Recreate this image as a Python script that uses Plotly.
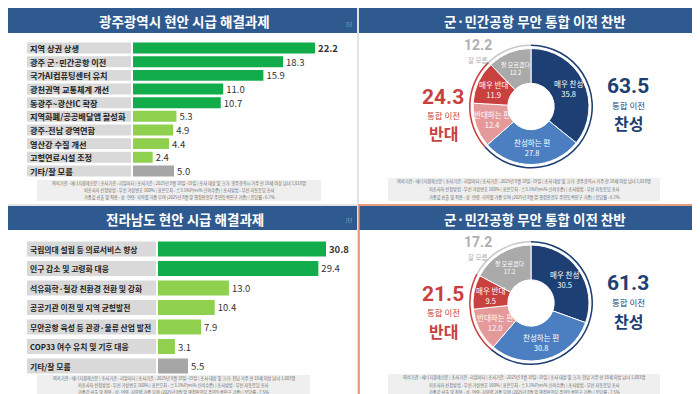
import math
import plotly.graph_objects as go

W, H = 700, 394
FONT = "Noto Sans CJK KR"
NUMFONT = "Roboto"

# ---------------- data ----------------
gj_title = "광주광역시 현안 시급 해결과제"
gj_items = ["지역 상권 상생", "광주 군·민간공항 이전", "국가AI컴퓨팅센터 유치", "광천권역 교통체계 개선",
            "동광주~광산IC 확장", "지역화폐/공공배달앱 활성화", "광주-전남 광역연합", "영산강 수질 개선",
            "고형연료시설 조정", "기타/잘 모름"]
gj_values = [22.2, 18.3, 15.9, 11.0, 10.7, 5.3, 4.9, 4.4, 2.4, 5.0]
gj_tier = ["top", "top", "top", "top", "top", "mid", "mid", "mid", "mid", "etc"]

jn_title = "전라남도 현안 시급 해결과제"
jn_items = ["국립의대 설립 등 의료서비스 향상", "인구 감소 및 고령화 대응", "석유화학·철강 친환경 전환 및 강화",
            "공공기관 이전 및 지역 균형발전", "무안공항 육성 등 관광·물류 산업 발전", "COP33 여수 유치 및 기후 대응",
            "기타/잘 모름"]
jn_values = [30.8, 29.4, 13.0, 10.4, 7.9, 3.1, 5.5]
jn_tier = ["top", "top", "mid", "mid", "mid", "mid", "etc"]

donut_title = "군·민간공항 무안 통합 이전 찬반"
donut_labels = ["매우 찬성", "찬성하는 편", "반대하는 편", "매우 반대", "잘 모르겠다"]
gj_donut = [35.8, 27.8, 12.4, 11.9, 12.2]
jn_donut = [30.5, 30.8, 12.0, 9.5, 17.2]
group_labels = ["찬성", "반대", "잘 모름"]
gj_groups = [63.5, 24.3, 12.2]
jn_groups = [61.3, 21.5, 17.2]

gj_note = ["의뢰기관 : 에너지경제신문 | 조사기관 : 리얼미터 | 조사기간 : 2025년 9월 18일~19일 | 조사 대상 및 크기: 광주광역시 거주 만 18세 이상 남녀 1,018명",
           "피조사자 선정방법 : 무선 가상번호 100% | 표본오차 : ±3.1%P(95% 신뢰수준) | 조사방법 : 무선 자동응답 조사",
           "가중값 산출 및 적용 : 성·연령·지역별 가중 부여 (2025년 8월 말 행정안전부 주민등록인구 기준) | 응답률 : 6.7%"]
jn_note = ["의뢰기관 : 에너지경제신문 | 조사기관 : 리얼미터 | 조사기간 : 2025년 9월 18일~19일 | 조사 대상 및 크기: 전남 거주 만 18세 이상 남녀 1,003명",
           "피조사자 선정방법 : 무선 가상번호 100% | 표본오차 : ±3.1%P(95% 신뢰수준) | 조사방법 : 무선 자동응답 조사",
           "가중값 산출 및 적용 : 성·연령·지역별 가중 부여 (2025년 8월 말 행정안전부 주민등록인구 기준) | 응답률 : 7.5%"]

# ---------------- style ----------------
HEADER = "#2e5a90"
TIER_COL = {"top": "#12ad4a", "mid": "#8fd04f", "etc": "#a6a6a6"}
DONUT_COL = ["#1d3f73", "#4b7fc1", "#e49a9a", "#c8413f", "#aaaaaa"]
GROUP_COL = ["#1d3f73", "#c8413f", "#c8c8c8"]
NAVY, RED, GRAY = "#1d3f73", "#c8413f", "#b0b0b0"


def px(x):
    return x / W


def py(y):
    return 1 - y / H


fig = go.Figure()
shapes, annos = [], []


def rect(x0, y0, x1, y1, fill, line=None, lw=0):
    shapes.append(dict(type="rect", xref="paper", yref="paper", x0=px(x0), x1=px(x1),
                       y0=py(y1), y1=py(y0), fillcolor=fill,
                       line=dict(color=line or fill, width=lw), layer="below"))


def text(x, y, s, size, color, weight="normal", xanchor="center", family=FONT):
    annos.append(dict(xref="paper", yref="paper", x=px(x), y=py(y), text=s, showarrow=False,
                      xanchor=xanchor, yanchor="middle", borderpad=0,
                      font=dict(family=family, size=size, color=color, weight=weight)))


# background panels, headers
rect(0, 0, 700, 394, "#ffffff")
for (x0, x1) in [(0, 349), (351, 700)]:
    rect(x0, 0, x1, 25, HEADER)
    rect(x0, 198, x1, 222, HEADER)
shapes.append(dict(type="line", xref="paper", yref="paper", x0=px(350), x1=px(350), y0=0, y1=1,
                   line=dict(color="#dfe4ea", width=2)))
shapes.append(dict(type="line", xref="paper", yref="paper", x0=0, x1=1, y0=py(197), y1=py(197),
                   line=dict(color="#e4e4e4", width=2)))

text(177, 13, gj_title, 13.5, "white", "bold")
text(177, 211, jn_title, 13.5, "white", "bold")
text(527, 13, donut_title, 13.5, "white", "bold")
text(527, 211, donut_title, 13.5, "white", "bold")
for (x, y) in [(346, 15), (692, 15), (346, 212), (692, 212)]:
    text(x, y, "[단", 5, "#9fb4d0", xanchor="right")


# ---------------- bar charts ----------------
def bar_panel(items, values, tier, xa, ya, box_x0, box_x1, bar_w, lab_size):
    n = len(items)
    txt = [f"<b>{v:.1f}</b>" if i == 0 else f"{v:.1f}" for i, v in enumerate(values)]
    fig.add_trace(go.Bar(
        y=list(range(n)), x=values, orientation="h", width=bar_w,
        marker=dict(color=[TIER_COL[t] for t in tier], line=dict(width=0)),
        text=txt, textposition="outside", constraintext="none", cliponaxis=False,
        textfont=dict(family=FONT, size=9.5, color="#333333"),
        xaxis=xa, yaxis=ya, showlegend=False, hoverinfo="skip"))
    for i, lab in enumerate(items):
        shapes.append(dict(type="rect", xref="paper", yref=ya, x0=px(box_x0), x1=px(box_x1),
                           y0=i - bar_w / 2, y1=i + bar_w / 2, fillcolor="#d9d9d9",
                           line=dict(width=0), layer="below"))
        annos.append(dict(xref="paper", yref=ya, x=px(box_x0 + 2), y=i, text=lab, showarrow=False,
                          xanchor="left", yanchor="middle", borderpad=0,
                          font=dict(family=FONT, size=lab_size, color="#222222", weight="bold")))


bar_panel(gj_items, gj_values, gj_tier, "x", "y", 19, 123, 0.8, 8.2)
bar_panel(jn_items, jn_values, jn_tier, "x2", "y2", 19, 148, 0.78, 7.8)

axis_off = dict(showgrid=False, zeroline=False, showticklabels=False, ticks="", showline=False)
fig.update_layout(
    xaxis=dict(domain=[px(125), px(330)], range=[0, 25], anchor="y", **axis_off),
    yaxis=dict(domain=[py(169.8), py(33.2)], range=[9.5, -0.5], anchor="x", **axis_off),
    xaxis2=dict(domain=[px(150), px(330)], range=[0, 33], anchor="y2", **axis_off),
    yaxis2=dict(domain=[py(367.75), py(231.25)], range=[6.5, -0.5], anchor="x2", **axis_off),
)


# ---------------- donuts ----------------
def donut_panel(vals, groups, cx, cy, r, dy):
    fig.add_trace(go.Pie(
        values=groups, labels=group_labels, sort=False, direction="clockwise", hole=0.975,
        domain=dict(x=[px(cx - r - 4), px(cx + r + 4)], y=[py(cy + r + 4), py(cy - r - 4)]),
        marker=dict(colors=GROUP_COL, line=dict(width=0)), textinfo="none",
        showlegend=False, hoverinfo="skip"))
    fig.add_trace(go.Pie(
        values=vals, labels=donut_labels, sort=False, direction="clockwise", hole=0.4,
        domain=dict(x=[px(cx - r), px(cx + r)], y=[py(cy + r), py(cy - r)]),
        marker=dict(colors=DONUT_COL, line=dict(color="white", width=1)),
        textinfo="none", showlegend=False, hoverinfo="skip"))
    # slice labels at mid-angle of each slice
    tot = sum(vals)
    cum = 0.0
    rr = 0.71 * r
    for lab, v in zip(donut_labels, vals):
        mid = (cum + v / 2) / tot * 2 * math.pi
        cum += v
        x = cx + rr * math.sin(mid)
        y = cy - rr * math.cos(mid)
        size = 6 if lab == "잘 모르겠다" else 7.5
        text(x, y, f"{lab}<br>{v:.1f}", size, "white")
    # side annotations
    text(620, 78 + dy, f"{groups[0]:.1f}", 21, NAVY, "bold", family=NUMFONT)
    text(620, 97 + dy, "통합 이전", 8.5, NAVY)
    text(620, 115.5 + dy, "<b>찬성</b>", 16, NAVY)
    text(435, 89 + dy, f"{groups[1]:.1f}", 21, RED, "bold", family=NUMFONT)
    text(435, 107 + dy, "통합 이전", 8.5, RED)
    text(435, 125.5 + dy, "<b>반대</b>", 16, RED)
    text(470, 37 + dy, f"{groups[2]:.1f}", 14, GRAY, "bold", family=NUMFONT)
    text(470, 52 + dy, "잘 모름", 6.5, GRAY)


donut_panel(gj_donut, gj_groups, 523, 98.5, 58, 0)
donut_panel(jn_donut, jn_groups, 523, 295, 58, 197)


# ---------------- footnotes ----------------
def note(lines, x0, y0, x1, y1):
    rect(x0, y0, x1, y1, "#efefef")
    cxn = (x0 + x1) / 2
    h = (y1 - y0) / 3
    for k, ln in enumerate(lines):
        text(cxn, y0 + h * (k + 0.5), ln, 4.2, "#6a6a6a")


note(gj_note, 29, 172, 313, 193)
note(gj_note, 380, 170, 652, 193)
note(jn_note, 29, 367, 302, 388)
note(jn_note, 380, 366, 652, 388)

# highlighted border on bottom-right panel
shapes.append(dict(type="rect", xref="paper", yref="paper", x0=px(351), x1=px(699.5),
                   y0=py(393.5), y1=py(197), line=dict(color="#e8835f", width=1.5),
                   fillcolor="rgba(0,0,0,0)"))

fig.update_layout(
    width=W, height=H, margin=dict(l=0, r=0, t=0, b=0),
    paper_bgcolor="white", plot_bgcolor="rgba(0,0,0,0)",
    shapes=shapes, annotations=annos, showlegend=False,
    font=dict(family=FONT),
)

fig.write_html("out.html")
